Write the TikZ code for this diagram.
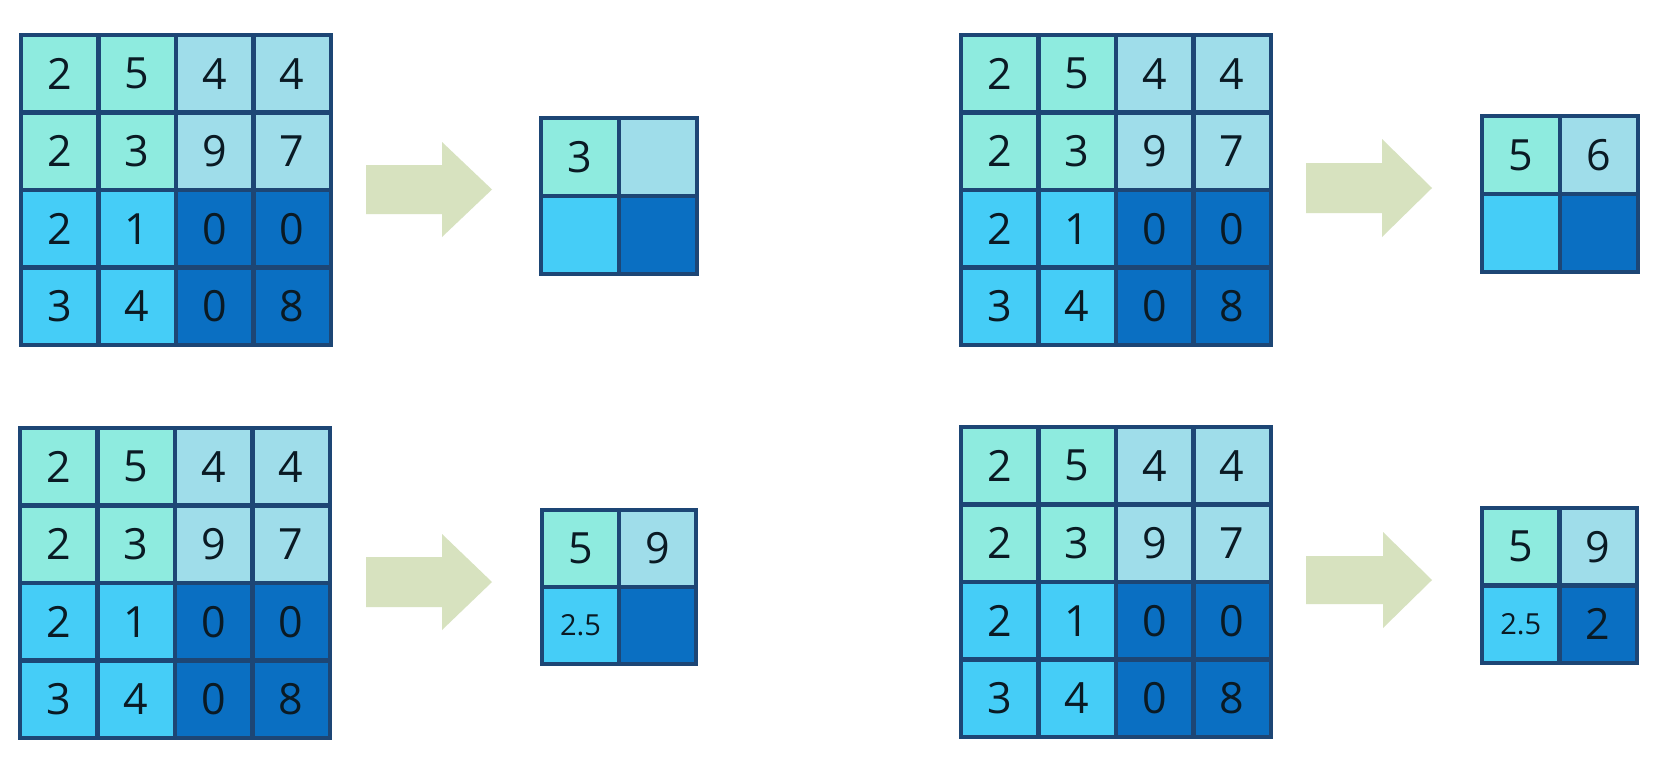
\documentclass[tikz,border=0pt]{standalone}
\usepackage{fontspec}
\setmainfont{Open Sans}
\definecolor{q0}{HTML}{8EEBDF}
\definecolor{q1}{HTML}{9FDDEA}
\definecolor{q2}{HTML}{45CDF7}
\definecolor{q3}{HTML}{0A6FC2}
\definecolor{bord}{HTML}{1D4675}
\definecolor{arrowc}{HTML}{D7E2BF}
\definecolor{txt}{HTML}{0A1A24}
\newcommand\smallnum{\fontsize{29}{32}\selectfont}
\begin{document}
\begin{tikzpicture}[x=1pt,y=-1pt,
  cellbox/.style={draw=bord, line width=4.2pt, inner sep=0pt, outer sep=0pt, anchor=north west,
    text=txt, font=\fontsize{43}{48}\selectfont},
  fatarrow/.style={fill=arrowc}]
\useasboundingbox (0,0) rectangle (1667,761);
\fill[white] (0,0) rectangle (1667,761);
% big 4x4 grids
\foreach \g/\x/\y/\s in {1/21/35/77.5, 2/961/35/77.5, 3/20/428/77.5, 4/961/427/77.5} {
  \foreach \v [count=\i from 0] in {2,5,4,4,2,3,9,7,2,1,0,0,3,4,0,8} {
    \pgfmathtruncatemacro\r{int(\i/4)}
    \pgfmathtruncatemacro\c{mod(\i,4)}
    \pgfmathtruncatemacro\q{(\r>1)*2+(\c>1)}
    \node[cellbox, fill=q\q, minimum size=\s pt] (g\g-\r\c) at (\x+\c*\s, \y+\r*\s) {\v};
  }
}
% small 2x2 grids
\foreach \g/\x/\y/\s/\vals in {1/541/118/78/{3,{},{},{}}, 2/1482/116/78/{5,6,{},{}},
    3/542/510/77/{5,9,{\smallnum 2.5},{}}, 4/1482/508/77.5/{5,9,{\smallnum 2.5},2}} {
  \foreach \v [count=\i from 0] in \vals {
    \pgfmathtruncatemacro\r{int(\i/2)}
    \pgfmathtruncatemacro\c{mod(\i,2)}
    \pgfmathtruncatemacro\q{\r*2+\c}
    \node[cellbox, fill=q\q, minimum size=\s pt] (s\g-\r\c) at (\x+\c*\s, \y+\r*\s) {\v};
  }
}
% arrows
\fill[fatarrow] (366,165) -- (442,165) -- (442,142) -- (492,189.5) -- (442,237) -- (442,214) -- (366,214) -- cycle;
\fill[fatarrow] (1306,163) -- (1382,163) -- (1382,139) -- (1432,188) -- (1382,237) -- (1382,213) -- (1306,213) -- cycle;
\fill[fatarrow] (366,557) -- (442,557) -- (442,534) -- (492,582) -- (442,630) -- (442,607) -- (366,607) -- cycle;
\fill[fatarrow] (1306,556) -- (1383,556) -- (1383,532) -- (1432,580) -- (1383,628) -- (1383,604) -- (1306,604) -- cycle;
\end{tikzpicture}
\end{document}
